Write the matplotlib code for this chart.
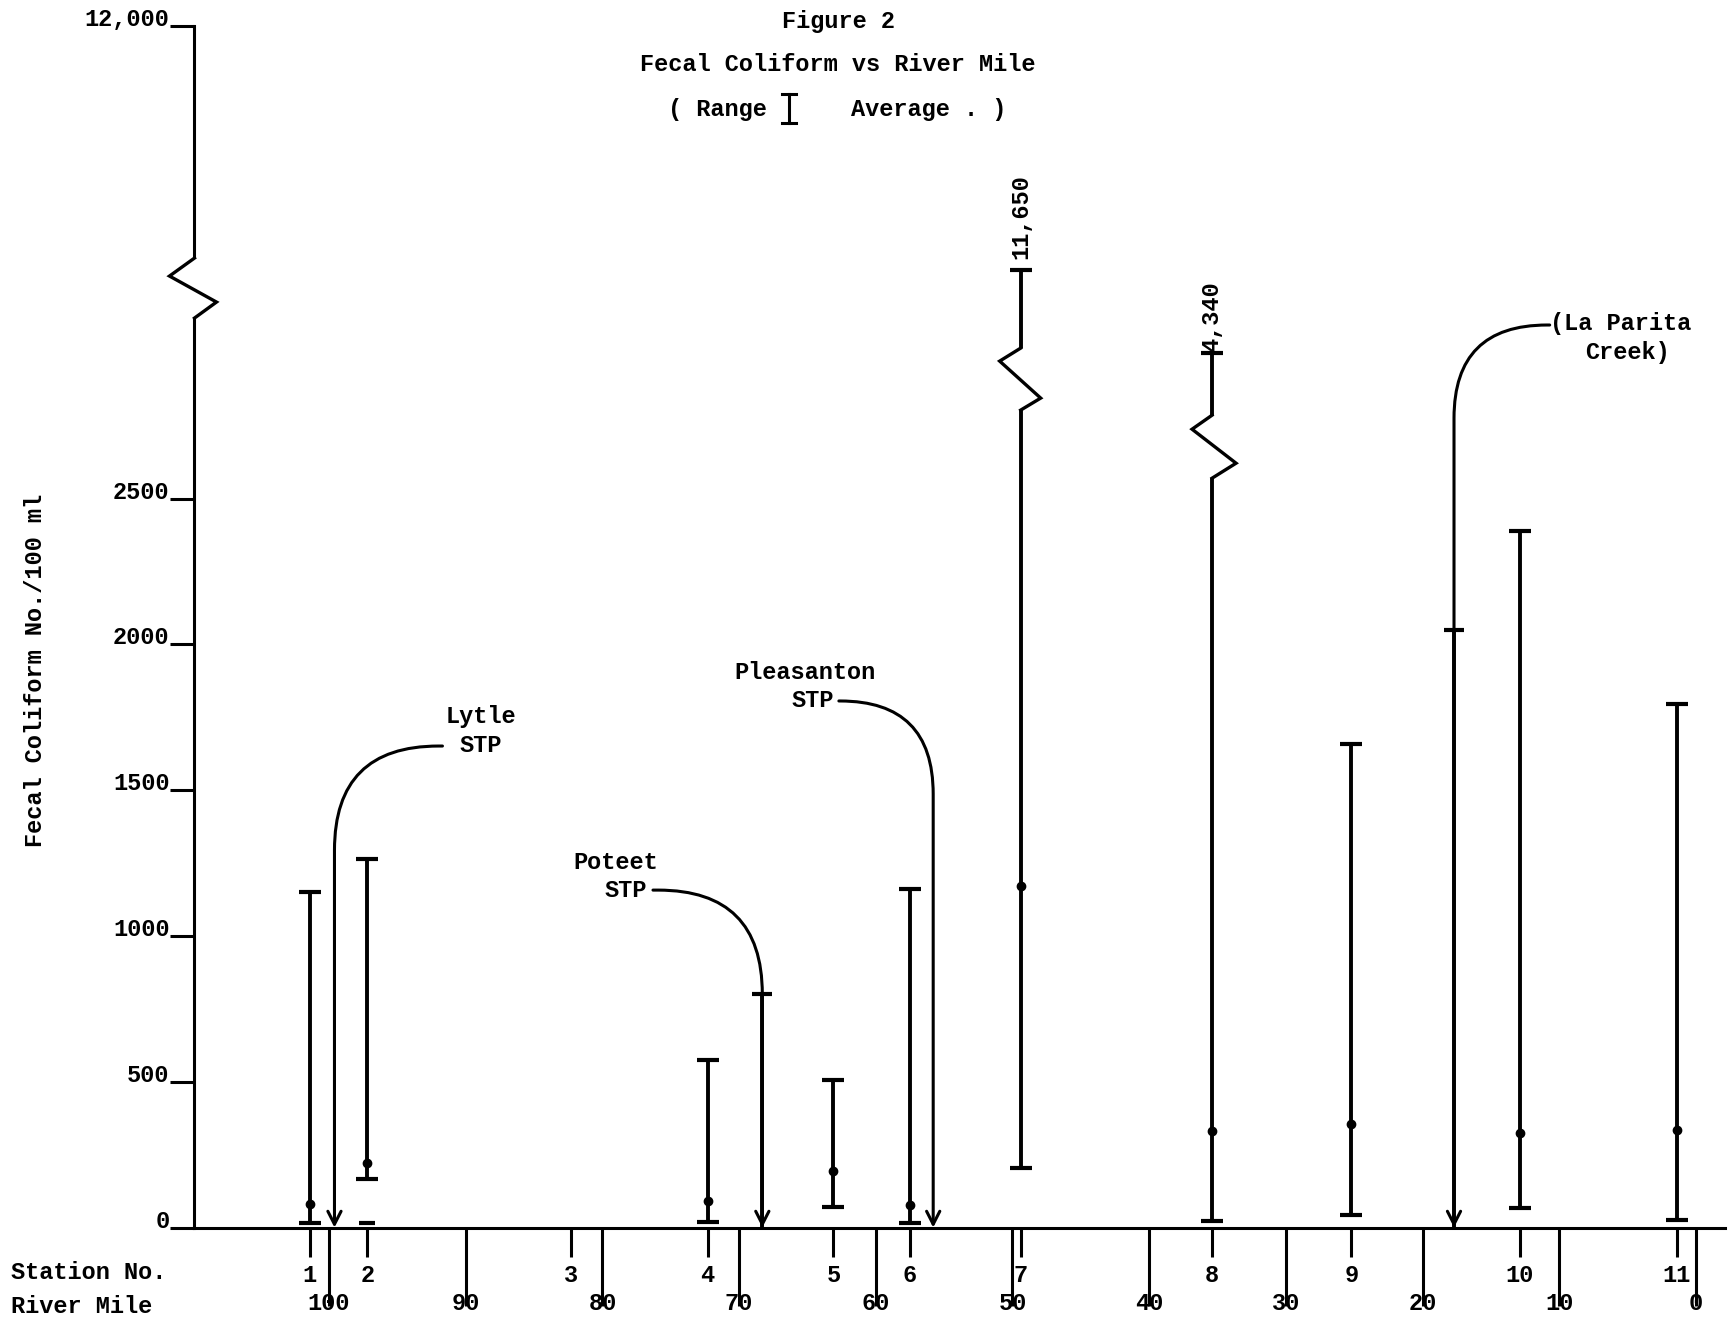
import numpy as np
import matplotlib
matplotlib.use("Agg")
import matplotlib.pyplot as plt
import matplotlib.transforms as mtransforms
from matplotlib.lines import Line2D

plt.rcParams['font.family'] = ['Liberation Mono', 'DejaVu Sans Mono']
plt.rcParams['font.weight'] = 'bold'
plt.rcParams['font.size'] = 17

# stations along the river (river mile of each station)
station_no = ['1', '2', '3', '4', '5', '6', '7', '8', '9', '10', '11']
station_mile = [101.4, 97.2, 82.3, 72.3, 63.1, 57.5, 49.4, 35.4, 25.2, 12.9, 1.4]
river_miles = [100, 90, 80, 70, 60, 50, 40, 30, 20, 10, 0]

# fecal coliform range and average (station 3 has no data)
bar_mile = [101.4, 97.2, 72.3, 63.1, 57.5, 49.4, 35.4, 25.2, 12.9, 1.4]
fc_low = [15, 167, 19, 72, 15, 205, 23, 42, 68, 27]
fc_high = [1150, 1265, 575, 505, 1160, 11650, 4340, 1660, 2390, 1795]
fc_avg = [80, 220, 90, 195, 76, 1170, 330, 355, 323, 335]

# station 2 extra low reading
extra_mile = [97.2]
extra_value = [15]

# bars that run off the scale (labelled with their top value)
broken_mile = [49.4, 35.4]
broken_top = [11650, 4340]
broken_label = ['11,650', '4,340']

# inflows (STPs / creek) : river mile of the arrow
inflow_name = ['Lytle', 'Poteet', 'Pleasanton', 'La Parita']
inflow_mile = [99.6, 68.3, 55.8, 17.7]
# inflows with a reading
trib_mile = [68.3, 17.7]
trib_value = [800, 2050]

ytick_vals = [0, 500, 1000, 1500, 2000, 2500, 12000]
ytick_labels = ['0', '500', '1000', '1500', '2000', '2500', '12,000']

# broken axis: piecewise scale (value -> drawing units)
brk_vals = [0, 2600, 4340, 11650, 12000]
brk_units = [0, 2600, 2999, 3284, 4121]


def fwd(v):
    return np.interp(v, brk_vals, brk_units)


def inv(u):
    return np.interp(u, brk_units, brk_vals)


fig = plt.figure(figsize=(17.35, 13.23), dpi=100)
ax = fig.add_axes([0.1121, 0.0721, 0.8821, 0.9082])
ax.set_yscale('function', functions=(fwd, inv))
ax.set_ylim(0, 12000)
ax.set_xlim(109.84, -2.12)

for s in ['top', 'right']:
    ax.spines[s].set_visible(False)
for s in ['left', 'bottom']:
    ax.spines[s].set_linewidth(2.2)

# ticks
ax.set_xticks(river_miles, labels=[str(m) for m in river_miles])
ax.set_xticks(station_mile, labels=station_no, minor=True)
ax.tick_params(axis='x', which='major', length=56, width=2.2, pad=-10)
ax.tick_params(axis='x', which='minor', length=21, width=2.2, pad=5)
ax.set_yticks(ytick_vals, labels=ytick_labels)
ax.tick_params(axis='y', length=17, width=2.2, pad=1)
plt.setp(ax.get_yticklabels(), va='baseline')

# range bars with average
low = np.array(fc_low)
high = np.array(fc_high)
avg = np.array(fc_avg)
ax.errorbar(bar_mile, avg, yerr=[avg - low, high - avg], fmt='o', color='black',
            ms=6, elinewidth=2.8, capsize=8, capthick=3, zorder=3, clip_on=False)
ax.plot(extra_mile, extra_value, marker='_', ms=12, mew=3, color='black', ls='none')

# inflow bars
ax.vlines(trib_mile, 0, trib_value, color='black', lw=2.8, zorder=3)
ax.plot(trib_mile, trib_value, marker='_', ms=14, mew=3, color='black', ls='none', zorder=3)


def draw_break(x, y, pts):
    tr = fig.dpi_scale_trans + mtransforms.ScaledTranslation(x, y, ax.transData)
    dx = [p[0] / 100 for p in pts]
    dy = [p[1] / 100 for p in pts]
    ax.plot([0, 0], [dy[0], dy[-1]], color='white', lw=7, transform=tr,
            zorder=5, clip_on=False, solid_capstyle='butt')
    ax.plot(dx, dy, color='black', lw=2.4, transform=tr, zorder=6, clip_on=False,
            solid_joinstyle='miter')


# y-axis break
draw_break(ax.get_xlim()[0], 12000, [(0, -232), (-25, -250), (22, -276), (0, -292)])
# bar breaks
zig = [[(0, -78), (-21, -91), (20, -128), (0, -140)],
       [(0, -62), (-20, -76), (24, -110), (0, -125)]]
lab_off = [8, 1]
for m, t, lab, z, o in zip(broken_mile, broken_top, broken_label, zig, lab_off):
    draw_break(m, t, z)
    ax.annotate(lab, xy=(m, t), xytext=(0, o), textcoords='offset points',
                rotation=90, ha='center', va='bottom')

# inflow arrows with curved leaders
start_mile = [91.7, 76.3, 62.7, 10.7]
start_frac = [0.4008, 0.2809, 0.4383, 0.7512]
bend = [104, 104, 93, 93]
for m, sm, sf, r in zip(inflow_mile, start_mile, start_frac, bend):
    ax.annotate('', xy=(m, 0), xycoords='data', xytext=(sm, sf),
                textcoords=('data', 'axes fraction'),
                arrowprops=dict(arrowstyle='->,head_length=0.55,head_width=0.28',
                                connectionstyle='angle,angleA=0,angleB=90,rad=%d' % r,
                                lw=2.2, color='black', shrinkA=0, shrinkB=0))

tc = ('data', 'axes fraction')
ax.annotate('Lytle', xy=(88.9, 0.4257), xycoords=tc, ha='center', va='center')
ax.annotate('STP', xy=(88.9, 0.4016), xycoords=tc, ha='center', va='center')
ax.annotate('Poteet', xy=(79.0, 0.3042), xycoords=tc, ha='center', va='center')
ax.annotate('STP', xy=(78.3, 0.2809), xycoords=tc, ha='center', va='center')
ax.annotate('Pleasanton', xy=(65.2, 0.4624), xycoords=tc, ha='center', va='center')
ax.annotate('STP', xy=(64.6, 0.4383), xycoords=tc, ha='center', va='center')
ax.annotate('(La Parita', xy=(10.7, 0.7528), xycoords=tc, ha='left', va='center')
ax.annotate('Creek)', xy=(5.0, 0.7287), xycoords=tc, ha='center', va='center')

# titles and labels
fig.text(0.483, 0.9834, 'Figure 2', ha='center', va='center')
fig.text(0.483, 0.9509, 'Fecal Coliform vs River Mile', ha='center', va='center')
fig.text(0.385, 0.9176, '( Range', ha='left', va='center')
fig.text(0.4905, 0.9176, 'Average . )', ha='left', va='center')
fig.add_artist(Line2D([0.4548, 0.4548], [0.9070, 0.9290], color='black', lw=2.2))
fig.add_artist(Line2D([0.4508, 0.4588], [0.9290, 0.9290], color='black', lw=2.2))
fig.add_artist(Line2D([0.4508, 0.4588], [0.9070, 0.9070], color='black', lw=2.2))

fig.text(0.0202, 0.4936, 'Fecal Coliform No./100 ml', rotation=90, ha='center', va='center')
fig.text(0.0063, 0.0385, 'Station No.', ha='left', va='center')
fig.text(0.0063, 0.0121, 'River Mile', ha='left', va='center')

fig.savefig('out.png', dpi=100)
